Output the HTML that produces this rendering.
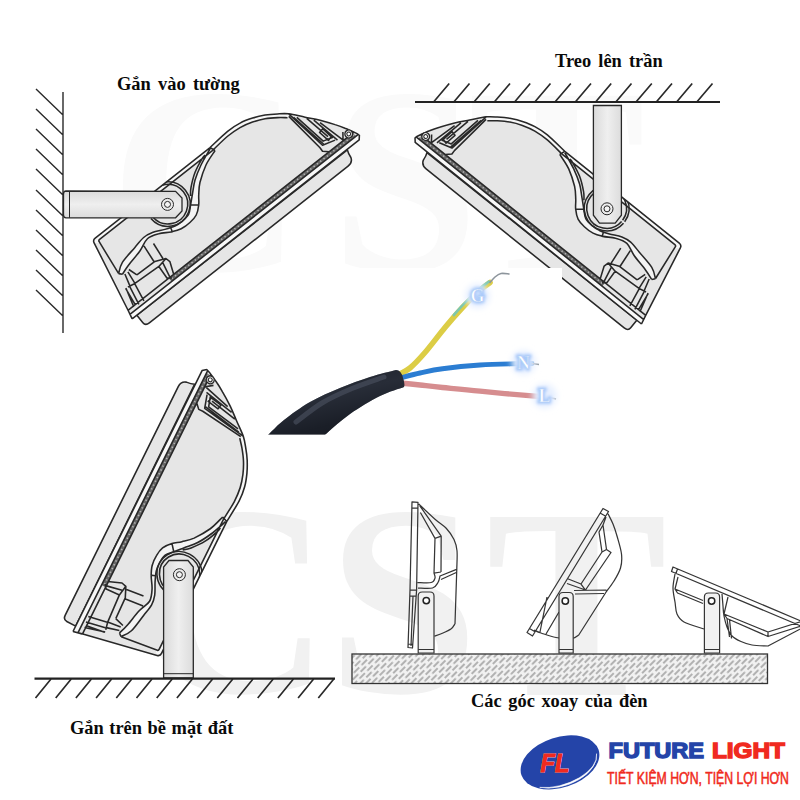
<!DOCTYPE html>
<html><head><meta charset="utf-8"><title>Lamp</title>
<style>
html,body{margin:0;padding:0;background:#fff;}
body{width:800px;height:800px;position:relative;overflow:hidden;font-family:"Liberation Sans",sans-serif;}
.t{position:absolute;font-family:"Liberation Serif",serif;font-weight:bold;font-size:18.4px;word-spacing:2px;color:#0a0a0a;white-space:nowrap;line-height:1;}
</style></head><body>
<svg width="800" height="800" viewBox="0 0 800 800" style="position:absolute;left:0;top:0">
<g font-family="Liberation Serif, serif" font-weight="bold">
<g font-size="266" fill="#fafafa"><text x="110" y="270">C</text><text x="331" y="270">S</text><text x="468" y="270">T</text></g>
<g font-size="272" fill="#f1f1f1"><text x="134" y="692">C</text><text x="327.5" y="692">S</text><text x="486" y="695">T</text></g></g>
<g transform="matrix(0.7855 -0.6194 0.6194 0.7855 127.98 310.34)"><path d="M0 0.5 L15.2 -74 Q15.8 -77 19 -77 L165.2 -77 C169.1 -77.3 182.5 -78.8 189 -78.9 C195.4 -79 199.3 -78.5 203.9 -77.6 C208.5 -76.8 212.7 -75.3 216.8 -73.8 C220.9 -72.3 224.7 -70.4 228.5 -68.4 C232.2 -66.4 235.8 -63.9 239 -61.6 C242.3 -59.3 244.6 -57.9 247.9 -54.7 C251.1 -51.4 255.1 -46.1 258.6 -42 C262 -38 265.3 -34.5 268.5 -30.4 C271.6 -26.3 275.1 -21.3 277.5 -17.6 C280 -14 281.3 -11.9 283.1 -8.6 C285 -5.3 287.5 -0.3 288.7 2.1 C289.8 4.5 289.8 5.2 290.1 5.8 L287 9.3 L-2 9.3 Z" fill="#e6e6e6" stroke="none"/>
<path d="M4 9.3 L4 19 Q4 23.1 9 23.1 L262 23.1 Q268 23 269.6 18 Q270 13 271.5 9.9 Z" fill="#e6e6e6" stroke="#282828" stroke-width="1.55"/>
<path d="M-1 4.4 L289 4.4 L290.2 5.6 L287 9.3 L-2 9.3 Z" fill="#f8f8f8" stroke="none"/>
<path d="M52 0 L286 0 L287 4.4 L52 4.4 Z" fill="#666" stroke="none"/>
<path d="M54 2.2 L286 2.2" stroke="#b4b4b4" stroke-width="1.6" stroke-dasharray="1.3 2.9" fill="none"/>
<path d="M15.2 -74 Q15.8 -77 19 -77 L165.2 -77 C169.1 -77.3 182.5 -78.8 189 -78.9 C195.4 -79 199.3 -78.5 203.9 -77.6 C208.5 -76.8 212.7 -75.3 216.8 -73.8 C220.9 -72.3 224.7 -70.4 228.5 -68.4 C232.2 -66.4 235.8 -63.9 239 -61.6 C242.3 -59.3 246.4 -55.8 247.9 -54.7 L244.5 -52.5 C243.2 -53.5 239.8 -56.5 236.7 -58.7 C233.6 -60.9 229.9 -63.5 226.1 -65.5 C222.4 -67.5 218.5 -69.2 214.3 -70.7 C210.1 -72.1 205.8 -73.4 201.1 -74.1 C196.4 -74.8 191.7 -75.1 185.9 -75 C180 -74.8 169.3 -73.5 166 -73.2 L21 -73 L19.5 -70 Z" fill="#f7f7f7" stroke="none"/>
<path d="M167.2 -71.5 C164.5 -70.5 156.4 -68.4 151.2 -65.8 C145.9 -63.1 139.7 -58.9 135.6 -55.8 C131.6 -52.6 129.4 -49.5 126.9 -46.7 C124.4 -43.9 123.1 -41.2 120.7 -38.9 C118.3 -36.5 115.5 -34 112.6 -32.6 C109.6 -31.2 106.4 -30.8 103 -30.6 C99.6 -30.3 95.7 -30.4 92.3 -31.1 C88.8 -31.8 85.9 -33.2 82.5 -34.8 C79 -36.5 75.3 -39.6 71.5 -41.1 C67.7 -42.7 63.8 -44.5 59.6 -44.2 C55.4 -43.9 51.3 -40.7 46.1 -39.2 C41 -37.7 33.3 -36.5 28.6 -35.2 C23.9 -34 19.7 -32.3 17.9 -31.7 L15.4 -34.6 C17 -35.7 20.4 -39.3 25.3 -41.1 C30.1 -42.8 39 -44 44.4 -45.1 C49.7 -46.2 53.6 -47.3 57.4 -47.5 C61.3 -47.7 63.8 -47.1 67.4 -46 C71 -44.9 75.5 -42.2 79.1 -40.7 C82.7 -39.2 85.9 -37.9 89.1 -37.1 C92.2 -36.4 95 -36.3 98 -36.4 C101.1 -36.6 104.6 -36.8 107.3 -38 C110 -39.3 111.8 -41.7 114.3 -43.9 C116.9 -46.2 119.5 -48.6 122.6 -51.4 C125.8 -54.2 129.2 -57.9 133.3 -60.8 C137.4 -63.7 142.1 -66.3 147.3 -68.9 C152.5 -71.4 161.5 -74.8 164.4 -76 Z" fill="#f4f4f4" stroke="none"/>
<clipPath id="shellclip"><path d="M0 0.5 L15.2 -74 Q15.8 -77 19 -77 L165.2 -77 C169.1 -77.3 182.5 -78.8 189 -78.9 C195.4 -79 199.3 -78.5 203.9 -77.6 C208.5 -76.8 212.7 -75.3 216.8 -73.8 C220.9 -72.3 224.7 -70.4 228.5 -68.4 C232.2 -66.4 235.8 -63.9 239 -61.6 C242.3 -59.3 244.6 -57.9 247.9 -54.7 C251.1 -51.4 255.1 -46.1 258.6 -42 C262 -38 265.3 -34.5 268.5 -30.4 C271.6 -26.3 275.1 -21.3 277.5 -17.6 C280 -14 281.3 -11.9 283.1 -8.6 C285 -5.3 287.5 -0.3 288.7 2.1 C289.8 4.5 289.8 5.2 290.1 5.8 L287 9.3 L-2 9.3 Z"/></clipPath>
<path d="M77.3 -59.5 A19.8 19.8 0 1 1 77.3 -57.9 M74.8 -59.6 A22.3 22.3 0 1 1 74.8 -57.8" fill="none" stroke="#282828" stroke-width="1.55" clip-path="url(#shellclip)"/>
<path d="M0 0.5 L15.2 -74 Q15.8 -77 19 -77 L165.2 -77 C169.1 -77.3 182.5 -78.8 189 -78.9 C195.4 -79 199.3 -78.5 203.9 -77.6 C208.5 -76.8 212.7 -75.3 216.8 -73.8 C220.9 -72.3 224.7 -70.4 228.5 -68.4 C232.2 -66.4 235.8 -63.9 239 -61.6 C242.3 -59.3 244.6 -57.9 247.9 -54.7 C251.1 -51.4 255.1 -46.1 258.6 -42 C262 -38 265.3 -34.5 268.5 -30.4 C271.6 -26.3 275.1 -21.3 277.5 -17.6 C280 -14 281.3 -11.9 283.1 -8.6 C285 -5.3 287.5 -0.3 288.7 2.1 C289.8 4.5 289.8 5.2 290.1 5.8 M19.9 -72 Q20 -73.2 22 -73.2 L166 -73.2 C169.3 -73.5 180 -74.8 185.9 -75 C191.7 -75.1 196.4 -74.8 201.1 -74.1 C205.8 -73.4 210.1 -72.1 214.3 -70.7 C218.5 -69.2 222.4 -67.5 226.1 -65.5 C229.9 -63.5 233.6 -60.9 236.7 -58.7 C239.8 -56.5 243.2 -53.5 244.5 -52.5 M19.9 -72 L15.4 -34.8 M11.7 -18.4 L9.2 0 M0 0 L287 0 M-1 4.4 L289 4.4 M-2 9.3 L287 9.3 L290.2 5.6 M0 0.5 L-2 9.3 M167.2 -71.5 C164.5 -70.5 156.4 -68.4 151.2 -65.8 C145.9 -63.1 139.7 -58.9 135.6 -55.8 C131.6 -52.6 129.4 -49.5 126.9 -46.7 C124.4 -43.9 123.1 -41.2 120.7 -38.9 C118.3 -36.5 115.5 -34 112.6 -32.6 C109.6 -31.2 106.4 -30.8 103 -30.6 C99.6 -30.3 95.7 -30.4 92.3 -31.1 C88.8 -31.8 85.9 -33.2 82.5 -34.8 C79 -36.5 75.3 -39.6 71.5 -41.1 C67.7 -42.7 63.8 -44.5 59.6 -44.2 C55.4 -43.9 51.3 -40.7 46.1 -39.2 C41 -37.7 33.3 -36.5 28.6 -35.2 C23.9 -34 19.7 -32.3 17.9 -31.7 M164.4 -76 C161.5 -74.8 152.5 -71.4 147.3 -68.9 C142.1 -66.3 137.4 -63.7 133.3 -60.8 C129.2 -57.9 125.8 -54.2 122.6 -51.4 C119.5 -48.6 116.9 -46.2 114.3 -43.9 C111.8 -41.7 110 -39.3 107.3 -38 C104.6 -36.8 101.1 -36.6 98 -36.4 C95 -36.3 92.2 -36.4 89.1 -37.1 C85.9 -37.9 82.7 -39.2 79.1 -40.7 C75.5 -42.2 71 -44.9 67.4 -46 C63.8 -47.1 61.3 -47.7 57.4 -47.5 C53.6 -47.3 49.7 -46.2 44.4 -45.1 C39 -44 30.1 -42.8 25.3 -41.1 C20.4 -39.3 17 -35.7 15.4 -34.6 M17.9 -31.7 L15.4 -34.6 M165.2 -77 L167.2 -71.5 M114.3 -43.9 L120.7 -38.9 M84.7 -38.1 L83.1 -33.6 M156.6 -74.2 C155.8 -74 155 -74.4 151.9 -73.1 C148.8 -71.9 142.3 -69.3 137.9 -66.7 C133.5 -64.1 128.5 -60 125.5 -57.4 C122.5 -54.8 120.8 -52.1 119.9 -51 M28.9 -22.3 L51.4 -21.7 L61.9 -17.2 L63.1 -12.4 L57.9 0.7 M14.4 -18.4 L22.1 -16.8 L51.4 -15.3 L50.6 -1.3 L54.5 1.8 M26 -31.5 L28.9 -22.3 M52.4 -40.7 L50.6 -22.3 M61.4 -36.7 L59.5 -19.1 M56.7 -15.6 L53.5 -0.2 M51.4 -15.3 L61.9 -17.2 M20.1 -30.5 L16.6 -18 M23.7 -30.2 L22.1 -16.8 M12.2 -18.9 L6.7 1 M16 -17.2 L12.2 2.1 M21.7 -16.5 L18.3 2.5 M246.3 -52.7 L251.4 -8.8 L251.2 -4.5 L256 0 M247.8 -54.6 L248.5 -50 L254.9 -9.2 L268 -5.4 M252 -47 L258 -12 L268 -9 M259.1 -40 L264.5 -12.5 M260.5 -21 L265.2 -22 L267 -10.5 L262.5 -9.3 Z M279.1 -7 L274.1 -0.4 M263.6 -34.3 L269.8 -3.9 M266.9 -28.4 L274.1 -1.2 M249.5 -49 L256.5 -9.5" fill="none" stroke="#282828" stroke-width="1.55" stroke-linejoin="round"/>
<circle cx="282.5" cy="-1.8" r="3.9" fill="#e0e0e0" stroke="#282828" stroke-width="1.3"/>
<circle cx="282.5" cy="-1.8" r="1.9" fill="#fff" stroke="#282828" stroke-width="1"/></g>
<defs><linearGradient id="gv" x1="0" y1="0" x2="0" y2="1"><stop offset="0" stop-color="#dadada"/><stop offset="0.5" stop-color="#efefef"/><stop offset="1" stop-color="#dcdcdc"/></linearGradient><linearGradient id="gh" x1="0" y1="0" x2="1" y2="0"><stop offset="0" stop-color="#dadada"/><stop offset="0.5" stop-color="#efefef"/><stop offset="1" stop-color="#dcdcdc"/></linearGradient></defs>
<path d="M66 191 L175.6 191.3 L182 198 L182 211 L175.6 217.8 L66 217.8 Q63.5 217.8 63.5 215 L63.5 194 Q63.5 191 66 191 Z" fill="url(#gv)" stroke="#282828" stroke-width="1.3"/>
<path d="M69.5 191 L69.5 217.8" stroke="#282828" stroke-width="1" fill="none"/>
<circle cx="167.5" cy="204.4" r="6" fill="#ececec" stroke="#282828" stroke-width="1"/><circle cx="167.5" cy="204.4" r="3" fill="#f4f4f4" stroke="#282828" stroke-width="1"/>
<path d="M63 92 L63 333 M36 89 L63 115 M36 109 L63 135 M36 129 L63 155 M36 149 L63 175 M36 169 L63 195 M36 190 L63 216 M36 210 L63 236 M36 230 L63 256 M36 250 L63 276 M36 270 L63 296 M36 290 L63 316" stroke="#2a2a2a" stroke-width="1.4" fill="none"/>
<g transform="matrix(-0.7830 -0.6284 -0.6284 0.7830 645.76 315.46)"><path d="M0 0.5 L15.2 -74 Q15.8 -77 19 -77 L165.2 -77 C169.1 -77.3 182.5 -78.8 189 -78.9 C195.4 -79 199.3 -78.5 203.9 -77.6 C208.5 -76.8 212.7 -75.3 216.8 -73.8 C220.9 -72.3 224.7 -70.4 228.5 -68.4 C232.2 -66.4 235.8 -63.9 239 -61.6 C242.3 -59.3 244.6 -57.9 247.9 -54.7 C251.1 -51.4 255.1 -46.1 258.6 -42 C262 -38 265.3 -34.5 268.5 -30.4 C271.6 -26.3 275.1 -21.3 277.5 -17.6 C280 -14 281.3 -11.9 283.1 -8.6 C285 -5.3 287.5 -0.3 288.7 2.1 C289.8 4.5 289.8 5.2 290.1 5.8 L287 9.3 L-2 9.3 Z" fill="#e6e6e6" stroke="none"/>
<path d="M4 9.3 L4 19 Q4 23.1 9 23.1 L262 23.1 Q268 23 269.6 18 Q270 13 271.5 9.9 Z" fill="#e6e6e6" stroke="#282828" stroke-width="1.55"/>
<path d="M-1 4.4 L289 4.4 L290.2 5.6 L287 9.3 L-2 9.3 Z" fill="#f8f8f8" stroke="none"/>
<path d="M52 0 L286 0 L287 4.4 L52 4.4 Z" fill="#666" stroke="none"/>
<path d="M54 2.2 L286 2.2" stroke="#b4b4b4" stroke-width="1.6" stroke-dasharray="1.3 2.9" fill="none"/>
<path d="M15.2 -74 Q15.8 -77 19 -77 L165.2 -77 C169.1 -77.3 182.5 -78.8 189 -78.9 C195.4 -79 199.3 -78.5 203.9 -77.6 C208.5 -76.8 212.7 -75.3 216.8 -73.8 C220.9 -72.3 224.7 -70.4 228.5 -68.4 C232.2 -66.4 235.8 -63.9 239 -61.6 C242.3 -59.3 246.4 -55.8 247.9 -54.7 L244.5 -52.5 C243.2 -53.5 239.8 -56.5 236.7 -58.7 C233.6 -60.9 229.9 -63.5 226.1 -65.5 C222.4 -67.5 218.5 -69.2 214.3 -70.7 C210.1 -72.1 205.8 -73.4 201.1 -74.1 C196.4 -74.8 191.7 -75.1 185.9 -75 C180 -74.8 169.3 -73.5 166 -73.2 L21 -73 L19.5 -70 Z" fill="#f7f7f7" stroke="none"/>
<path d="M167.2 -71.5 C164.5 -70.5 156.4 -68.4 151.2 -65.8 C145.9 -63.1 139.7 -58.9 135.6 -55.8 C131.6 -52.6 129.4 -49.5 126.9 -46.7 C124.4 -43.9 123.1 -41.2 120.7 -38.9 C118.3 -36.5 115.5 -34 112.6 -32.6 C109.6 -31.2 106.4 -30.8 103 -30.6 C99.6 -30.3 95.7 -30.4 92.3 -31.1 C88.8 -31.8 85.9 -33.2 82.5 -34.8 C79 -36.5 75.3 -39.6 71.5 -41.1 C67.7 -42.7 63.8 -44.5 59.6 -44.2 C55.4 -43.9 51.3 -40.7 46.1 -39.2 C41 -37.7 33.3 -36.5 28.6 -35.2 C23.9 -34 19.7 -32.3 17.9 -31.7 L15.4 -34.6 C17 -35.7 20.4 -39.3 25.3 -41.1 C30.1 -42.8 39 -44 44.4 -45.1 C49.7 -46.2 53.6 -47.3 57.4 -47.5 C61.3 -47.7 63.8 -47.1 67.4 -46 C71 -44.9 75.5 -42.2 79.1 -40.7 C82.7 -39.2 85.9 -37.9 89.1 -37.1 C92.2 -36.4 95 -36.3 98 -36.4 C101.1 -36.6 104.6 -36.8 107.3 -38 C110 -39.3 111.8 -41.7 114.3 -43.9 C116.9 -46.2 119.5 -48.6 122.6 -51.4 C125.8 -54.2 129.2 -57.9 133.3 -60.8 C137.4 -63.7 142.1 -66.3 147.3 -68.9 C152.5 -71.4 161.5 -74.8 164.4 -76 Z" fill="#f4f4f4" stroke="none"/>
<clipPath id="shellclip"><path d="M0 0.5 L15.2 -74 Q15.8 -77 19 -77 L165.2 -77 C169.1 -77.3 182.5 -78.8 189 -78.9 C195.4 -79 199.3 -78.5 203.9 -77.6 C208.5 -76.8 212.7 -75.3 216.8 -73.8 C220.9 -72.3 224.7 -70.4 228.5 -68.4 C232.2 -66.4 235.8 -63.9 239 -61.6 C242.3 -59.3 244.6 -57.9 247.9 -54.7 C251.1 -51.4 255.1 -46.1 258.6 -42 C262 -38 265.3 -34.5 268.5 -30.4 C271.6 -26.3 275.1 -21.3 277.5 -17.6 C280 -14 281.3 -11.9 283.1 -8.6 C285 -5.3 287.5 -0.3 288.7 2.1 C289.8 4.5 289.8 5.2 290.1 5.8 L287 9.3 L-2 9.3 Z"/></clipPath>
<path d="M77.3 -59.5 A19.8 19.8 0 1 1 77.3 -57.9 M74.8 -59.6 A22.3 22.3 0 1 1 74.8 -57.8" fill="none" stroke="#282828" stroke-width="1.55" clip-path="url(#shellclip)"/>
<path d="M0 0.5 L15.2 -74 Q15.8 -77 19 -77 L165.2 -77 C169.1 -77.3 182.5 -78.8 189 -78.9 C195.4 -79 199.3 -78.5 203.9 -77.6 C208.5 -76.8 212.7 -75.3 216.8 -73.8 C220.9 -72.3 224.7 -70.4 228.5 -68.4 C232.2 -66.4 235.8 -63.9 239 -61.6 C242.3 -59.3 244.6 -57.9 247.9 -54.7 C251.1 -51.4 255.1 -46.1 258.6 -42 C262 -38 265.3 -34.5 268.5 -30.4 C271.6 -26.3 275.1 -21.3 277.5 -17.6 C280 -14 281.3 -11.9 283.1 -8.6 C285 -5.3 287.5 -0.3 288.7 2.1 C289.8 4.5 289.8 5.2 290.1 5.8 M19.9 -72 Q20 -73.2 22 -73.2 L166 -73.2 C169.3 -73.5 180 -74.8 185.9 -75 C191.7 -75.1 196.4 -74.8 201.1 -74.1 C205.8 -73.4 210.1 -72.1 214.3 -70.7 C218.5 -69.2 222.4 -67.5 226.1 -65.5 C229.9 -63.5 233.6 -60.9 236.7 -58.7 C239.8 -56.5 243.2 -53.5 244.5 -52.5 M19.9 -72 L15.4 -34.8 M11.7 -18.4 L9.2 0 M0 0 L287 0 M-1 4.4 L289 4.4 M-2 9.3 L287 9.3 L290.2 5.6 M0 0.5 L-2 9.3 M167.2 -71.5 C164.5 -70.5 156.4 -68.4 151.2 -65.8 C145.9 -63.1 139.7 -58.9 135.6 -55.8 C131.6 -52.6 129.4 -49.5 126.9 -46.7 C124.4 -43.9 123.1 -41.2 120.7 -38.9 C118.3 -36.5 115.5 -34 112.6 -32.6 C109.6 -31.2 106.4 -30.8 103 -30.6 C99.6 -30.3 95.7 -30.4 92.3 -31.1 C88.8 -31.8 85.9 -33.2 82.5 -34.8 C79 -36.5 75.3 -39.6 71.5 -41.1 C67.7 -42.7 63.8 -44.5 59.6 -44.2 C55.4 -43.9 51.3 -40.7 46.1 -39.2 C41 -37.7 33.3 -36.5 28.6 -35.2 C23.9 -34 19.7 -32.3 17.9 -31.7 M164.4 -76 C161.5 -74.8 152.5 -71.4 147.3 -68.9 C142.1 -66.3 137.4 -63.7 133.3 -60.8 C129.2 -57.9 125.8 -54.2 122.6 -51.4 C119.5 -48.6 116.9 -46.2 114.3 -43.9 C111.8 -41.7 110 -39.3 107.3 -38 C104.6 -36.8 101.1 -36.6 98 -36.4 C95 -36.3 92.2 -36.4 89.1 -37.1 C85.9 -37.9 82.7 -39.2 79.1 -40.7 C75.5 -42.2 71 -44.9 67.4 -46 C63.8 -47.1 61.3 -47.7 57.4 -47.5 C53.6 -47.3 49.7 -46.2 44.4 -45.1 C39 -44 30.1 -42.8 25.3 -41.1 C20.4 -39.3 17 -35.7 15.4 -34.6 M17.9 -31.7 L15.4 -34.6 M165.2 -77 L167.2 -71.5 M114.3 -43.9 L120.7 -38.9 M84.7 -38.1 L83.1 -33.6 M156.6 -74.2 C155.8 -74 155 -74.4 151.9 -73.1 C148.8 -71.9 142.3 -69.3 137.9 -66.7 C133.5 -64.1 128.5 -60 125.5 -57.4 C122.5 -54.8 120.8 -52.1 119.9 -51 M28.9 -22.3 L51.4 -21.7 L61.9 -17.2 L63.1 -12.4 L57.9 0.7 M14.4 -18.4 L22.1 -16.8 L51.4 -15.3 L50.6 -1.3 L54.5 1.8 M26 -31.5 L28.9 -22.3 M52.4 -40.7 L50.6 -22.3 M61.4 -36.7 L59.5 -19.1 M56.7 -15.6 L53.5 -0.2 M51.4 -15.3 L61.9 -17.2 M20.1 -30.5 L16.6 -18 M23.7 -30.2 L22.1 -16.8 M12.2 -18.9 L6.7 1 M16 -17.2 L12.2 2.1 M21.7 -16.5 L18.3 2.5 M246.3 -52.7 L251.4 -8.8 L251.2 -4.5 L256 0 M247.8 -54.6 L248.5 -50 L254.9 -9.2 L268 -5.4 M252 -47 L258 -12 L268 -9 M259.1 -40 L264.5 -12.5 M260.5 -21 L265.2 -22 L267 -10.5 L262.5 -9.3 Z M279.1 -7 L274.1 -0.4 M263.6 -34.3 L269.8 -3.9 M266.9 -28.4 L274.1 -1.2 M249.5 -49 L256.5 -9.5" fill="none" stroke="#282828" stroke-width="1.55" stroke-linejoin="round"/>
<circle cx="282.5" cy="-1.8" r="3.9" fill="#e0e0e0" stroke="#282828" stroke-width="1.3"/>
<circle cx="282.5" cy="-1.8" r="1.9" fill="#fff" stroke="#282828" stroke-width="1"/></g>
<path d="M593.4 105.5 L593.4 215.2 L599.5 223.2 L615.2 223.2 L621.4 215.2 L621.4 105.5 Z" fill="url(#gh)" stroke="#282828" stroke-width="1.3"/>
<circle cx="607" cy="208.8" r="6" fill="#ececec" stroke="#282828" stroke-width="1"/><circle cx="607" cy="208.8" r="3" fill="#f4f4f4" stroke="#282828" stroke-width="1"/>
<path d="M433.8 101.8 L449.2 83.5 M454 101.8 L469.5 83.5 M474.2 101.8 L489.8 83.5 M494.5 101.8 L510 83.5 M514.8 101.8 L530.2 83.5 M535 101.8 L550.5 83.5 M555.2 101.8 L570.8 83.5 M575.5 101.8 L591 83.5 M595.8 101.8 L611.2 83.5 M616 101.8 L631.5 83.5 M636.2 101.8 L651.8 83.5 M656.5 101.8 L672 83.5 M676.8 101.8 L692.2 83.5 M697 101.8 L712.5 83.5" stroke="#2a2a2a" stroke-width="1.7" fill="none"/>
<path d="M415 102 L720 102" stroke="#222" stroke-width="2.2" fill="none"/>
<g transform="matrix(0.4466 -0.9030 -0.9171 -0.4740 82.42 634.10)"><path d="M0 0.5 L15.2 -74 Q15.8 -77 19 -77 L165.2 -77 C169.1 -77.3 182.5 -78.8 189 -78.9 C195.4 -79 199.3 -78.5 203.9 -77.6 C208.5 -76.8 212.7 -75.3 216.8 -73.8 C220.9 -72.3 224.7 -70.4 228.5 -68.4 C232.2 -66.4 235.8 -63.9 239 -61.6 C242.3 -59.3 244.6 -57.9 247.9 -54.7 C251.1 -51.4 255.1 -46.1 258.6 -42 C262 -38 265.3 -34.5 268.5 -30.4 C271.6 -26.3 275.1 -21.3 277.5 -17.6 C280 -14 281.3 -11.9 283.1 -8.6 C285 -5.3 287.5 -0.3 288.7 2.1 C289.8 4.5 289.8 5.2 290.1 5.8 L287 9.3 L-2 9.3 Z" fill="#e6e6e6" stroke="none"/>
<path d="M4 9.3 L4 19 Q4 23.1 9 23.1 L262 23.1 Q268 23 269.6 18 Q270 13 271.5 9.9 Z" fill="#e6e6e6" stroke="#282828" stroke-width="1.55"/>
<path d="M-1 4.4 L289 4.4 L290.2 5.6 L287 9.3 L-2 9.3 Z" fill="#f8f8f8" stroke="none"/>
<path d="M52 0 L286 0 L287 4.4 L52 4.4 Z" fill="#666" stroke="none"/>
<path d="M54 2.2 L286 2.2" stroke="#b4b4b4" stroke-width="1.6" stroke-dasharray="1.3 2.9" fill="none"/>
<path d="M15.2 -74 Q15.8 -77 19 -77 L165.2 -77 C169.1 -77.3 182.5 -78.8 189 -78.9 C195.4 -79 199.3 -78.5 203.9 -77.6 C208.5 -76.8 212.7 -75.3 216.8 -73.8 C220.9 -72.3 224.7 -70.4 228.5 -68.4 C232.2 -66.4 235.8 -63.9 239 -61.6 C242.3 -59.3 246.4 -55.8 247.9 -54.7 L244.5 -52.5 C243.2 -53.5 239.8 -56.5 236.7 -58.7 C233.6 -60.9 229.9 -63.5 226.1 -65.5 C222.4 -67.5 218.5 -69.2 214.3 -70.7 C210.1 -72.1 205.8 -73.4 201.1 -74.1 C196.4 -74.8 191.7 -75.1 185.9 -75 C180 -74.8 169.3 -73.5 166 -73.2 L21 -73 L19.5 -70 Z" fill="#f7f7f7" stroke="none"/>
<path d="M167.2 -71.5 C164.5 -70.5 156.4 -68.4 151.2 -65.8 C145.9 -63.1 139.7 -58.9 135.6 -55.8 C131.6 -52.6 129.4 -49.5 126.9 -46.7 C124.4 -43.9 123.1 -41.2 120.7 -38.9 C118.3 -36.5 115.5 -34 112.6 -32.6 C109.6 -31.2 106.4 -30.8 103 -30.6 C99.6 -30.3 95.7 -30.4 92.3 -31.1 C88.8 -31.8 85.9 -33.2 82.5 -34.8 C79 -36.5 75.3 -39.6 71.5 -41.1 C67.7 -42.7 63.8 -44.5 59.6 -44.2 C55.4 -43.9 51.3 -40.7 46.1 -39.2 C41 -37.7 33.3 -36.5 28.6 -35.2 C23.9 -34 19.7 -32.3 17.9 -31.7 L15.4 -34.6 C17 -35.7 20.4 -39.3 25.3 -41.1 C30.1 -42.8 39 -44 44.4 -45.1 C49.7 -46.2 53.6 -47.3 57.4 -47.5 C61.3 -47.7 63.8 -47.1 67.4 -46 C71 -44.9 75.5 -42.2 79.1 -40.7 C82.7 -39.2 85.9 -37.9 89.1 -37.1 C92.2 -36.4 95 -36.3 98 -36.4 C101.1 -36.6 104.6 -36.8 107.3 -38 C110 -39.3 111.8 -41.7 114.3 -43.9 C116.9 -46.2 119.5 -48.6 122.6 -51.4 C125.8 -54.2 129.2 -57.9 133.3 -60.8 C137.4 -63.7 142.1 -66.3 147.3 -68.9 C152.5 -71.4 161.5 -74.8 164.4 -76 Z" fill="#f4f4f4" stroke="none"/>
<clipPath id="shellclip"><path d="M0 0.5 L15.2 -74 Q15.8 -77 19 -77 L165.2 -77 C169.1 -77.3 182.5 -78.8 189 -78.9 C195.4 -79 199.3 -78.5 203.9 -77.6 C208.5 -76.8 212.7 -75.3 216.8 -73.8 C220.9 -72.3 224.7 -70.4 228.5 -68.4 C232.2 -66.4 235.8 -63.9 239 -61.6 C242.3 -59.3 244.6 -57.9 247.9 -54.7 C251.1 -51.4 255.1 -46.1 258.6 -42 C262 -38 265.3 -34.5 268.5 -30.4 C271.6 -26.3 275.1 -21.3 277.5 -17.6 C280 -14 281.3 -11.9 283.1 -8.6 C285 -5.3 287.5 -0.3 288.7 2.1 C289.8 4.5 289.8 5.2 290.1 5.8 L287 9.3 L-2 9.3 Z"/></clipPath>
<path d="M77.3 -59.5 A19.8 19.8 0 1 1 77.3 -57.9 M74.8 -59.6 A22.3 22.3 0 1 1 74.8 -57.8" fill="none" stroke="#282828" stroke-width="1.55" clip-path="url(#shellclip)"/>
<path d="M0 0.5 L15.2 -74 Q15.8 -77 19 -77 L165.2 -77 C169.1 -77.3 182.5 -78.8 189 -78.9 C195.4 -79 199.3 -78.5 203.9 -77.6 C208.5 -76.8 212.7 -75.3 216.8 -73.8 C220.9 -72.3 224.7 -70.4 228.5 -68.4 C232.2 -66.4 235.8 -63.9 239 -61.6 C242.3 -59.3 244.6 -57.9 247.9 -54.7 C251.1 -51.4 255.1 -46.1 258.6 -42 C262 -38 265.3 -34.5 268.5 -30.4 C271.6 -26.3 275.1 -21.3 277.5 -17.6 C280 -14 281.3 -11.9 283.1 -8.6 C285 -5.3 287.5 -0.3 288.7 2.1 C289.8 4.5 289.8 5.2 290.1 5.8 M19.9 -72 Q20 -73.2 22 -73.2 L166 -73.2 C169.3 -73.5 180 -74.8 185.9 -75 C191.7 -75.1 196.4 -74.8 201.1 -74.1 C205.8 -73.4 210.1 -72.1 214.3 -70.7 C218.5 -69.2 222.4 -67.5 226.1 -65.5 C229.9 -63.5 233.6 -60.9 236.7 -58.7 C239.8 -56.5 243.2 -53.5 244.5 -52.5 M19.9 -72 L15.4 -34.8 M11.7 -18.4 L9.2 0 M0 0 L287 0 M-1 4.4 L289 4.4 M-2 9.3 L287 9.3 L290.2 5.6 M0 0.5 L-2 9.3 M167.2 -71.5 C164.5 -70.5 156.4 -68.4 151.2 -65.8 C145.9 -63.1 139.7 -58.9 135.6 -55.8 C131.6 -52.6 129.4 -49.5 126.9 -46.7 C124.4 -43.9 123.1 -41.2 120.7 -38.9 C118.3 -36.5 115.5 -34 112.6 -32.6 C109.6 -31.2 106.4 -30.8 103 -30.6 C99.6 -30.3 95.7 -30.4 92.3 -31.1 C88.8 -31.8 85.9 -33.2 82.5 -34.8 C79 -36.5 75.3 -39.6 71.5 -41.1 C67.7 -42.7 63.8 -44.5 59.6 -44.2 C55.4 -43.9 51.3 -40.7 46.1 -39.2 C41 -37.7 33.3 -36.5 28.6 -35.2 C23.9 -34 19.7 -32.3 17.9 -31.7 M164.4 -76 C161.5 -74.8 152.5 -71.4 147.3 -68.9 C142.1 -66.3 137.4 -63.7 133.3 -60.8 C129.2 -57.9 125.8 -54.2 122.6 -51.4 C119.5 -48.6 116.9 -46.2 114.3 -43.9 C111.8 -41.7 110 -39.3 107.3 -38 C104.6 -36.8 101.1 -36.6 98 -36.4 C95 -36.3 92.2 -36.4 89.1 -37.1 C85.9 -37.9 82.7 -39.2 79.1 -40.7 C75.5 -42.2 71 -44.9 67.4 -46 C63.8 -47.1 61.3 -47.7 57.4 -47.5 C53.6 -47.3 49.7 -46.2 44.4 -45.1 C39 -44 30.1 -42.8 25.3 -41.1 C20.4 -39.3 17 -35.7 15.4 -34.6 M17.9 -31.7 L15.4 -34.6 M165.2 -77 L167.2 -71.5 M114.3 -43.9 L120.7 -38.9 M84.7 -38.1 L83.1 -33.6 M156.6 -74.2 C155.8 -74 155 -74.4 151.9 -73.1 C148.8 -71.9 142.3 -69.3 137.9 -66.7 C133.5 -64.1 128.5 -60 125.5 -57.4 C122.5 -54.8 120.8 -52.1 119.9 -51 M28.9 -22.3 L51.4 -21.7 L61.9 -17.2 L63.1 -12.4 L57.9 0.7 M14.4 -18.4 L22.1 -16.8 L51.4 -15.3 L50.6 -1.3 L54.5 1.8 M26 -31.5 L28.9 -22.3 M52.4 -40.7 L50.6 -22.3 M61.4 -36.7 L59.5 -19.1 M56.7 -15.6 L53.5 -0.2 M51.4 -15.3 L61.9 -17.2 M20.1 -30.5 L16.6 -18 M23.7 -30.2 L22.1 -16.8 M12.2 -18.9 L6.7 1 M16 -17.2 L12.2 2.1 M21.7 -16.5 L18.3 2.5 M246.3 -52.7 L251.4 -8.8 L251.2 -4.5 L256 0 M247.8 -54.6 L248.5 -50 L254.9 -9.2 L268 -5.4 M252 -47 L258 -12 L268 -9 M259.1 -40 L264.5 -12.5 M260.5 -21 L265.2 -22 L267 -10.5 L262.5 -9.3 Z M279.1 -7 L274.1 -0.4 M263.6 -34.3 L269.8 -3.9 M266.9 -28.4 L274.1 -1.2 M249.5 -49 L256.5 -9.5" fill="none" stroke="#282828" stroke-width="1.55" stroke-linejoin="round"/>
<circle cx="282.5" cy="-1.8" r="3.9" fill="#e0e0e0" stroke="#282828" stroke-width="1.3"/>
<circle cx="282.5" cy="-1.8" r="1.9" fill="#fff" stroke="#282828" stroke-width="1"/></g>
<path d="M163.6 678 L163.6 567 L169 560.5 L188 560.5 L193.3 567 L193.3 678 Z" fill="url(#gh)" stroke="#282828" stroke-width="1.3"/>
<path d="M163.6 673.7 L193.3 673.7" stroke="#282828" stroke-width="1" fill="none"/>
<circle cx="179.4" cy="574.7" r="6" fill="#ececec" stroke="#282828" stroke-width="1"/><circle cx="179.4" cy="574.7" r="3" fill="#f4f4f4" stroke="#282828" stroke-width="1"/>
<path d="M51 679 L35.5 698 M71.2 679 L55.7 698 M91.4 679 L75.9 698 M111.6 679 L96.1 698 M131.8 679 L116.3 698 M152 679 L136.5 698 M172.2 679 L156.7 698 M192.4 679 L176.9 698 M212.6 679 L197.1 698 M232.8 679 L217.3 698 M253 679 L237.5 698 M273.2 679 L257.7 698 M293.4 679 L277.9 698 M313.6 679 L298.1 698 M333.8 679 L318.3 698" stroke="#2a2a2a" stroke-width="1.7" fill="none"/>
<path d="M34.5 678.6 L335 678.6" stroke="#222" stroke-width="2.2" fill="none"/>
<defs><linearGradient id="cab" x1="0" y1="0" x2="0.45" y2="1"><stop offset="0" stop-color="#14171f"/><stop offset="0.45" stop-color="#363c4a"/><stop offset="0.75" stop-color="#1b1f29"/><stop offset="1" stop-color="#10131a"/></linearGradient><filter id="glow" x="-60%" y="-60%" width="220%" height="220%"><feGaussianBlur stdDeviation="1.8"/></filter><filter id="glow2" x="-60%" y="-60%" width="220%" height="220%"><feGaussianBlur stdDeviation="3"/></filter><clipPath id="cabclip"><rect x="262" y="262" width="320" height="172.5"/></clipPath></defs>
<rect x="262" y="268" width="300" height="166.5" fill="#fff"/>
<g clip-path="url(#cabclip)">
<path d="M398 375 C400 373.8 405.5 371.8 410 368 C414.5 364.2 419.2 359.2 425 352.5 C430.8 345.8 438.8 335 445 327.5 C451.2 320 457 313.4 462.5 307.5 C468 301.6 473.4 296.2 478 292 C482.6 287.8 488 284.1 490 282.5" fill="none" stroke="#dccd45" stroke-width="5.6" stroke-linecap="round"/>
<path d="M455 316 C456.2 314.6 458.7 311.5 462.5 307.5 C466.3 303.5 473.4 296.2 478 292 C482.6 287.8 488 284.1 490 282.5" fill="none" stroke="#6cc6c0" stroke-width="2.6" stroke-linecap="round" opacity="0.85" transform="translate(-1.2 -0.9)"/>
<path d="M490 282.5 C490.8 281.6 493.2 278.5 495 277 C496.8 275.5 498.7 274 501 273.5 C503.3 273 507.7 273.9 509 274" fill="none" stroke="#8d959c" stroke-width="1.6" stroke-linecap="round"/>
<path d="M400 378 C403.3 377.2 412.9 374.5 420 373 C427.1 371.5 432.5 370.1 442.5 368.8 C452.5 367.4 467.9 365.8 480 365 C492.1 364.2 506.3 364 515 363.8 C523.7 363.5 529.2 363.5 532 363.5" fill="none" stroke="#2b7dd2" stroke-width="4.9" stroke-linecap="round"/>
<path d="M532 363.5 L539 364.5" stroke="#8d959c" stroke-width="1.6" fill="none"/>
<path d="M400 383 C403.3 383.3 412.9 384.2 420 385 C427.1 385.8 432.5 386.5 442.5 387.5 C452.5 388.5 464.6 389.8 480 391.2 C495.4 392.7 523.7 395.3 535 396.2 C546.3 397.2 545.8 396.9 548 397" fill="none" stroke="#d68d8f" stroke-width="5.3" stroke-linecap="round"/>
<path d="M548 397 L556 399" stroke="#8d959c" stroke-width="1.6" fill="none"/>
<path d="M250 452 C253.2 449 263.3 439.3 269 434 C274.7 428.7 277.2 425.3 284 420 C290.8 414.7 300.7 407.3 310 402 C319.3 396.7 330 392.2 340 388 C350 383.8 360.7 380 370 377 C379.3 374 391.7 371.2 396 370 Q401 370 403 378 Q405 384 404 387 C400 388.5 389 391.5 380 396 C371 400.5 359 407.7 350 414 C341 420.3 333 427.7 326 434 C319 440.3 311 449 308 452 Z" fill="url(#cab)"/>
<path d="M250 452 C253.2 449 263.3 439.3 269 434 C274.7 428.7 277.2 425.3 284 420 C290.8 414.7 300.7 407.3 310 402 C319.3 396.7 330 392.2 340 388 C350 383.8 360.7 380 370 377 C379.3 374 391.7 371.2 396 370 Q401 370 403 378 Q405 384 404 387 C400 388.5 389 391.5 380 396 C371 400.5 359 407.7 350 414 C341 420.3 333 427.7 326 434 C319 440.3 311 449 308 452 Z" fill="#1a1d26" opacity="0.5"/>
<path d="M296 422 C300.3 418.8 312.7 408.6 322 403 C331.3 397.4 341.7 392.8 352 388.5 C362.3 384.2 378.7 378.9 384 377" fill="none" stroke="#4d5463" stroke-width="5" stroke-linecap="round" opacity="0.6"/>
</g>
<g font-family="Liberation Serif, serif" font-weight="bold" font-size="18" text-anchor="middle"><circle cx="477.5" cy="296" r="12" fill="#e6efff" filter="url(#glow2)"/><text x="477.5" y="302" fill="#a9c9fa" stroke="#a9c9fa" stroke-width="3.5" filter="url(#glow)">G</text><text x="477.5" y="302" fill="#fff" stroke="#b3cff7" stroke-width="0.7">G</text></g>
<g font-family="Liberation Serif, serif" font-weight="bold" font-size="18" text-anchor="middle"><circle cx="523.5" cy="362.5" r="12" fill="#e6efff" filter="url(#glow2)"/><text x="523.5" y="368.5" fill="#a9c9fa" stroke="#a9c9fa" stroke-width="3.5" filter="url(#glow)">N</text><text x="523.5" y="368.5" fill="#fff" stroke="#b3cff7" stroke-width="0.7">N</text></g>
<g font-family="Liberation Serif, serif" font-weight="bold" font-size="18" text-anchor="middle"><circle cx="544.5" cy="396" r="12" fill="#e6efff" filter="url(#glow2)"/><text x="544.5" y="402" fill="#a9c9fa" stroke="#a9c9fa" stroke-width="3.5" filter="url(#glow)">L</text><text x="544.5" y="402" fill="#fff" stroke="#b3cff7" stroke-width="0.7">L</text></g>
<defs><pattern id="hat" width="11" height="8" patternUnits="userSpaceOnUse" patternTransform="rotate(-45)"><rect width="11" height="8" fill="#f1f1f1"/><path d="M0 2 L7.5 2 M5.5 6 L11 6 M0 6 L2 6" stroke="#747474" stroke-width="1.05"/></pattern></defs>
<rect x="352" y="654" width="415.5" height="29.5" fill="url(#hat)" stroke="#333" stroke-width="1.3"/>
<path d="M412 501.8 L418 502.4 L416.6 590 L410 590 Z M412.2 508 L417.8 508 M410 590 L408 647.5 L412.5 648 L416.6 590 M408.3 644 L412.8 644.4 M410 596 L416.4 596 M413 596 L411 646 M418.7 504 C421.4 506.5 430.4 515.2 435 519.2 C439.6 523.3 443.1 524.9 446.2 528.2 C449.4 531.6 452.2 535.8 454 539.5 C455.8 543.2 456.5 545.9 457 550.8 C457.5 555.6 456.8 565.8 456.8 568.8 L455 623.75 C454.4 624.6 453.2 627.2 451.2 628.8 C449.2 630.3 445.8 631.8 443 633 C440.2 634.2 435.8 635.7 434.4 636.2 M419.8 505.8 L441.2 536.1 L441 572 M420.4 512.5 L435 538.4 L434 573.2 M435 538.4 L441.2 536.1 M434 573.2 L441 572 M417.5 582.5 C419.8 582.5 428.3 583.2 431.2 582.5 C434.2 581.8 434.5 579.5 435 578 C435.5 576.5 434.2 574 434 573.2 M418 588 C420.4 588 429.2 588.9 432.5 588 C435.8 587.1 436.8 584.5 438 582.5 C439.2 580.5 439.7 577.1 440 576 L456.5 569.4 M441 579.5 L456.3 572.5" fill="none" stroke="#363636" stroke-width="1.25" stroke-linejoin="round"/>
<path d="M418.2 653 L418.2 596 Q418.2 592 422.2 592 L430 592 Q434 592 434 596 L434 653 Z" fill="#f1f1f1" stroke="#363636" stroke-width="1.2"/><path d="M418.2 649.5 L434 649.5" stroke="#333" stroke-width="1"/><circle cx="426.3" cy="600.6" r="3.2" fill="#fff" stroke="#222" stroke-width="1.5"/>
<path d="M603 508.5 L608.5 511.5 L532.5 636 L527 632.5 Z M600 513 L605.8 516.2 M529.5 628.5 L535 631.8 M608 513.8 C608.8 515.5 611.5 520.3 613 524 C614.5 527.7 615.6 531 617 536 C618.4 541 620.9 548.7 621.5 554 C622.1 559.3 621.8 563.5 620.5 568 C619.2 572.5 616.5 576.9 614 581 C611.5 585.1 607.1 590.6 605.8 592.5 L578.75 635 C577.6 635.6 575.8 638.1 572 638.5 C568.2 638.9 561.2 638.4 556 637.5 C550.8 636.6 544.7 634.2 541 633 C537.3 631.8 535.2 630.5 534 630 M606 517 L603 525 L606.5 549.5 L611 552.5 L585.5 590 L567 583.5 M603 525 L599 532 L602 552 L606.5 549.5 M602 552 L581 584 L567 578.5 M585.5 590 L581 584 M574 590.5 L606.5 590 M575 594 L604 593.5 M547 597 L540 632 M559 612 L546 634" fill="none" stroke="#363636" stroke-width="1.25" stroke-linejoin="round"/>
<path d="M559 653 L559 596.5 Q559 592.5 563 592.5 L569.2 592.5 Q573.2 592.5 573.2 596.5 L573.2 653 Z" fill="#f1f1f1" stroke="#363636" stroke-width="1.2"/><path d="M559 649.5 L573.2 649.5" stroke="#333" stroke-width="1"/><circle cx="565.3" cy="601" r="3.2" fill="#fff" stroke="#222" stroke-width="1.5"/>
<path d="M673 567 L671.5 571.5 L805 627.8 L806.5 623.3 Z M677.5 569 L676 573.3 M675 574 C674.7 576.3 673 583.3 673 588 C673 592.7 674.3 597.7 675 602 C675.7 606.3 675.5 610.7 677 614 C678.5 617.3 679.5 619.5 684 622 C688.5 624.5 700.7 627.8 704 629 M678 577 L675 589 L703 600.5 M675 589 L677.5 593 L703 603.5 M722 594 C722.2 596 722.7 602.3 723 606 C723.3 609.7 723.3 612.5 724 616 C724.7 619.5 725.7 623.7 727 627 C728.3 630.3 729.7 633.6 732 636 C734.3 638.4 737.7 640 741 641.5 C744.3 643 747.5 644.2 752 645 C756.5 645.8 765.3 645.8 768 646 L806 626 M728 597 L724 614 L768 632 L806 620 M724 614 L727 618.5 L768 636.5 L768 632 M768 636.5 L806 624.5 M727 618.5 L729.5 637 M729.5 619.5 L731.5 638.5" fill="none" stroke="#363636" stroke-width="1.25" stroke-linejoin="round"/>
<path d="M704.4 653 L704.4 597 Q704.4 593 708.4 593 L715.6 593 Q719.6 593 719.6 597 L719.6 653 Z" fill="#f1f1f1" stroke="#363636" stroke-width="1.2"/><path d="M704.4 649.5 L719.6 649.5" stroke="#333" stroke-width="1"/><circle cx="711.6" cy="601" r="3.2" fill="#fff" stroke="#222" stroke-width="1.5"/>
<g transform="translate(560 762.4) rotate(-18)"><ellipse cx="0" cy="0" rx="40.6" ry="25.2" fill="#2444a8"/><path d="M-27 17.5 A38.5 23 0 0 0 37.5 3 A39.5 21 0 0 1 -27 17.5 Z" fill="#fff" stroke="#fff" stroke-width="0.5"/></g>
<text x="540.5" y="771.8" font-family="Liberation Sans, sans-serif" font-weight="bold" font-style="italic" font-size="26" fill="#f02a20" stroke="#fff" stroke-width="1.2" paint-order="stroke" opacity="0.8" textLength="29" lengthAdjust="spacingAndGlyphs">FL</text><text x="540.5" y="771.8" font-family="Liberation Sans, sans-serif" font-weight="bold" font-style="italic" font-size="26" fill="#f02a20" stroke="#f02a20" stroke-width="0.8" textLength="29" lengthAdjust="spacingAndGlyphs">FL</text>
<text x="608.5" y="757.5" font-family="Liberation Sans, sans-serif" font-weight="bold" font-size="21.5" fill="#2444a8" stroke="#2444a8" stroke-width="1.4" textLength="95.5" lengthAdjust="spacingAndGlyphs">FUTURE</text>
<text x="712" y="757.5" font-family="Liberation Sans, sans-serif" font-weight="bold" font-size="21.5" fill="#f02a20" stroke="#f02a20" stroke-width="1.4" textLength="73" lengthAdjust="spacingAndGlyphs">LIGHT</text>
<text x="607" y="784" font-family="Liberation Sans, sans-serif" font-size="16.5" fill="#f02a20" stroke="#f02a20" stroke-width="0.55" textLength="182" lengthAdjust="spacingAndGlyphs">TIẾT KIỆM HƠN, TIỆN LỢI HƠN</text>
</svg>
<div class="t" style="left:117px;top:75px;word-spacing:2.7px">Gắn vào tường</div>
<div class="t" style="left:555px;top:52px;word-spacing:2.6px">Treo lên trần</div>
<div class="t" style="left:70px;top:718.5px;word-spacing:1px">Gắn trên bề mặt đất</div>
<div class="t" style="left:471px;top:692px;">Các góc xoay của đèn</div>
</body></html>
